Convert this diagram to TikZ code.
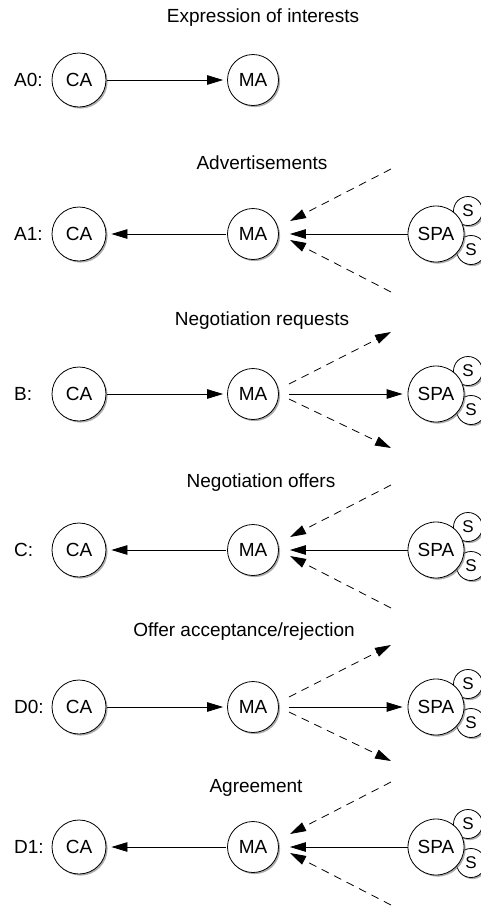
\documentclass[tikz,border=0pt]{standalone}
\usepackage{fontspec}
\setmainfont{Liberation Sans}
\usetikzlibrary{arrows.meta,shadows}
\begin{document}
\begin{tikzpicture}[x=1pt,y=-1pt,
  agent/.style={circle, draw=black, fill=white, line width=0.8pt, inner sep=0pt,
    drop shadow={shadow xshift=1.6pt, shadow yshift=-1.6pt, fill=black!50, opacity=0.65}},
  ca/.style={agent, minimum size=54pt, font=\fontsize{19}{22}\selectfont},
  ma/.style={agent, minimum size=51pt, font=\fontsize{19}{22}\selectfont},
  spa/.style={agent, minimum size=56pt, font=\fontsize{19}{22}\selectfont},
  sub/.style={agent, minimum size=29pt, font=\fontsize{17}{20}\selectfont},
  rowlabel/.style={anchor=west, inner sep=0pt, font=\fontsize{19}{22}\selectfont},
  phase/.style={inner sep=0pt, font=\fontsize{19}{22}\selectfont},
  msg/.style={line width=0.8pt, -{Triangle[length=16pt,width=9.5pt]}},
  bcast/.style={msg, dash pattern=on 8pt off 6pt},
]
\useasboundingbox (0,0) rectangle (480,906);

% phase titles
\node[phase] (tA0) at (263,18)  {Expression of interests};
\node[phase] (tA1) at (262,163) {Advertisements};
\node[phase] (tB)  at (262,321) {Negotiation requests};
\node[phase] (tC)  at (261,483) {Negotiation offers};
\node[phase] (tD0) at (244,632) {Offer acceptance/rejection};
\node[phase] (tD1) at (256,788) {Agreement};

% rows: label / y coordinate
\foreach \lab/\y in {A0/80, A1/234, B/394, C/550, D0/707, D1/847}{
  \node[rowlabel] (l\lab) at (14,\y) {\lab:};
  \node[ca] (ca\lab) at (79,\y) {CA};
  \node[ma] (ma\lab) at (253,\y) {MA};
}

% service provider agents with their services
\foreach \lab/\y in {A1/234, B/394, C/550, D0/707, D1/847}{
  \node[sub] (sb\lab) at (471,\y+16) {S};
  \node[sub] (sa\lab) at (468,\y-23) {S};
  \node[spa] (spa\lab) at (436,\y) {SPA};
}

% fan-in coordinates for the answers of the providers
\foreach \lab/\y in {A1/234, C/550, D1/847}{
  \coordinate (hi\lab) at (391,\y-65);
  \coordinate (lo\lab) at (391,\y+58);
  \coordinate (mhi\lab) at (290,\y-13);
  \coordinate (mlo\lab) at (290,\y+6);
}

% fan-out coordinates for the requests of the mediator
\foreach \lab/\y in {B/394, D0/707}{
  \coordinate (hi\lab) at (391,\y-62);
  \coordinate (lo\lab) at (391,\y+54);
  \coordinate (mhi\lab) at (289,\y-10);
  \coordinate (mlo\lab) at (289,\y+5);
}

% customer to mediator
\foreach \lab in {A0, B, D0}
  \draw[msg, shorten >=4pt, shorten <=1pt] (ca\lab) -- (ma\lab);

% mediator to customer
\foreach \lab in {A1, C, D1}
  \draw[msg, shorten >=5pt, shorten <=1pt] (ma\lab) -- (ca\lab);

% providers answering the mediator
\foreach \lab in {A1, C, D1}{
  \draw[msg, shorten >=11pt] (spa\lab) -- (ma\lab);
  \draw[bcast] (hi\lab) -- (mhi\lab);
  \draw[bcast] (lo\lab) -- (mlo\lab);
}

% mediator addressing the providers
\foreach \lab in {B, D0}{
  \draw[msg, shorten <=10pt, shorten >=5pt] (ma\lab) -- (spa\lab);
  \draw[bcast] (mhi\lab) -- (hi\lab);
  \draw[bcast] (mlo\lab) -- (lo\lab);
}
\end{tikzpicture}
\end{document}
